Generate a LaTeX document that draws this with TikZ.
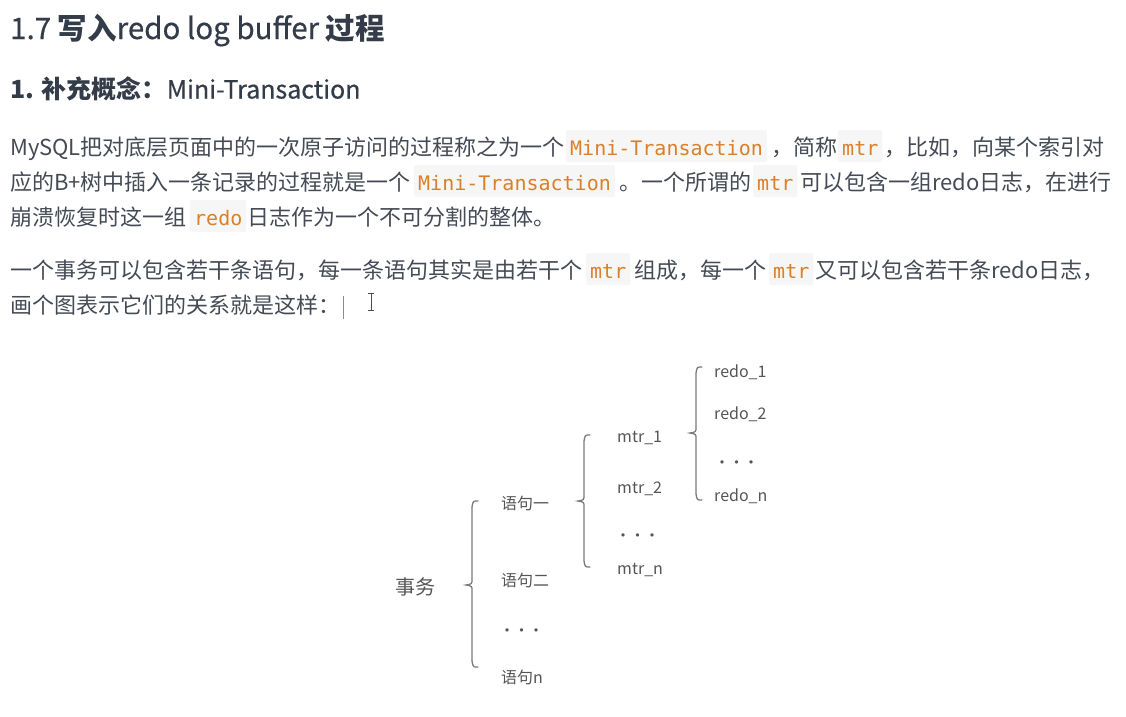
\documentclass[tikz,border=0pt]{standalone}
\usepackage{fontspec}
\setmainfont{Noto Sans CJK SC}
\setmonofont{DejaVu Sans Mono}
\newfontfamily\medfont[FakeBold=0.5]{Noto Sans CJK SC}
\definecolor{headc}{HTML}{343C4A}
\definecolor{bodyc}{HTML}{454B55}
\definecolor{codefg}{HTML}{D9802A}
\definecolor{codebg}{HTML}{F6F6F6}
\definecolor{diagc}{HTML}{555555}
\definecolor{bracec}{HTML}{7A7A7A}
\newcommand\brc[4]{% v, top, mid, bot
  \draw[bracebar] ({#1+6},#2) .. controls ({#1+1},#2) .. (#1,{#2+6}) -- (#1,{#3-6})
    .. controls (#1,{#3-1}) .. ({#1-6},#3) .. controls (#1,{#3+1}) .. (#1,{#3+6})
    -- (#1,{#4-6}) .. controls ({#1+1},{#4}) .. ({#1+6},#4);}
\newcommand\dotrow{·\hspace{-1.5pt}·\hspace{-1.5pt}·}
\begin{document}
\begin{tikzpicture}[x=1pt,y=-1pt,
  txt/.style={anchor=base west,inner sep=0pt,text=bodyc,font=\fontsize{22pt}{26pt}\selectfont},
  codebox/.style={anchor=base west,inner xsep=4pt,inner ysep=2pt,text height=23.5pt,text depth=4.5pt,
     fill=codebg,rounded corners=2pt,text=codefg,font=\ttfamily\fontsize{20pt}{24pt}\selectfont},
  dg/.style={anchor=base west,inner sep=0pt,text=diagc,font=\fontsize{16pt}{19pt}\selectfont},
  bracebar/.style={draw=bracec,line width=1.3pt,line cap=round}]
\useasboundingbox (0,0) rectangle (1126,716);
\fill[white] (0,0) rectangle (1126,716);
% headings
\node[anchor=base west,inner sep=0pt,text=headc,font=\fontsize{29.5pt}{33pt}\selectfont] (h1) at (10,39)
  {{\medfont 1.7} \textbf{写入}{\medfont redo log buffer} \textbf{过程}};
\node[anchor=base west,inner sep=0pt,text=headc,font=\fontsize{25pt}{29pt}\selectfont] (h2) at (10,98.5)
  {\textbf{1. 补充概念：}{\medfont Mini-Transaction}};
% paragraph 1
\node[txt] (l1a) at (10,155.5) {MySQL把对底层页面中的一次原子访问的过程称之为一个};
\node[codebox] (l1b) at (566,155.5) {Mini-Transaction};
\node[txt] (l1c) at (771,155.5) {，简称};
\node[codebox] (l1d) at (838,155.5) {mtr};
\node[txt] (l1e) at (884,155.5) {，比如，向某个索引对};
\node[txt] (l2a) at (10,190.5) {应的B+树中插入一条记录的过程就是一个};
\node[codebox] (l2b) at (414,190.5) {Mini-Transaction};
\node[txt] (l2c) at (619,190.5) {。一个所谓的};
\node[codebox] (l2d) at (753,190.5) {mtr};
\node[txt] (l2e) at (800,190.5) {可以包含一组redo日志，在进行};
\node[txt] (l3a) at (10,225.5) {崩溃恢复时这一组};
\node[codebox] (l3b) at (190,225.5) {redo};
\node[txt] (l3c) at (247,225.5) {日志作为一个不可分割的整体。};
% paragraph 2
\node[txt] (l4a) at (10,278.5) {一个事务可以包含若干条语句，每一条语句其实是由若干个};
\node[codebox] (l4b) at (586,278.5) {mtr};
\node[txt] (l4c) at (634,278.5) {组成，每一个};
\node[codebox] (l4d) at (769,278.5) {mtr};
\node[txt] (l4e) at (815,278.5) {又可以包含若干条redo日志，};
\node[txt] (l5a) at (10,313.5) {画个图表示它们的关系就是这样：};
% text cursor and mouse I-beam
\draw[draw=black!45,line width=0.9pt] (343,296) -- (343,319);
\draw[draw=black!70,line width=1pt] (371,293) -- (371,310);
\draw[draw=black!70,line width=1pt] (368,293) -- (374,293) (368,310) -- (374,310);
% diagram
\node[anchor=base west,inner sep=0pt,text=diagc,font=\fontsize{20pt}{24pt}\selectfont] (tx) at (395,594.5) {事务};
\node[dg] (s1) at (501,509) {语句一};
\node[dg] (s2) at (501,586) {语句二};
\node[dg] (sd) at (499,636) {\dotrow};
\node[dg] (sn) at (501,683) {语句n};
\node[dg] (m1) at (617,442) {mtr\_1};
\node[dg] (m2) at (617,493) {mtr\_2};
\node[dg] (md) at (615,541) {\dotrow};
\node[dg] (mn) at (617,574) {mtr\_n};
\node[dg] (r1) at (714,377) {redo\_1};
\node[dg] (r2) at (714,419) {redo\_2};
\node[dg] (rd) at (714,468) {\dotrow};
\node[dg] (rn) at (714,501) {redo\_n};
\brc{472}{501}{585}{667}
\brc{584}{435}{501}{567}
\brc{696}{367}{433}{500}
\end{tikzpicture}
\end{document}
